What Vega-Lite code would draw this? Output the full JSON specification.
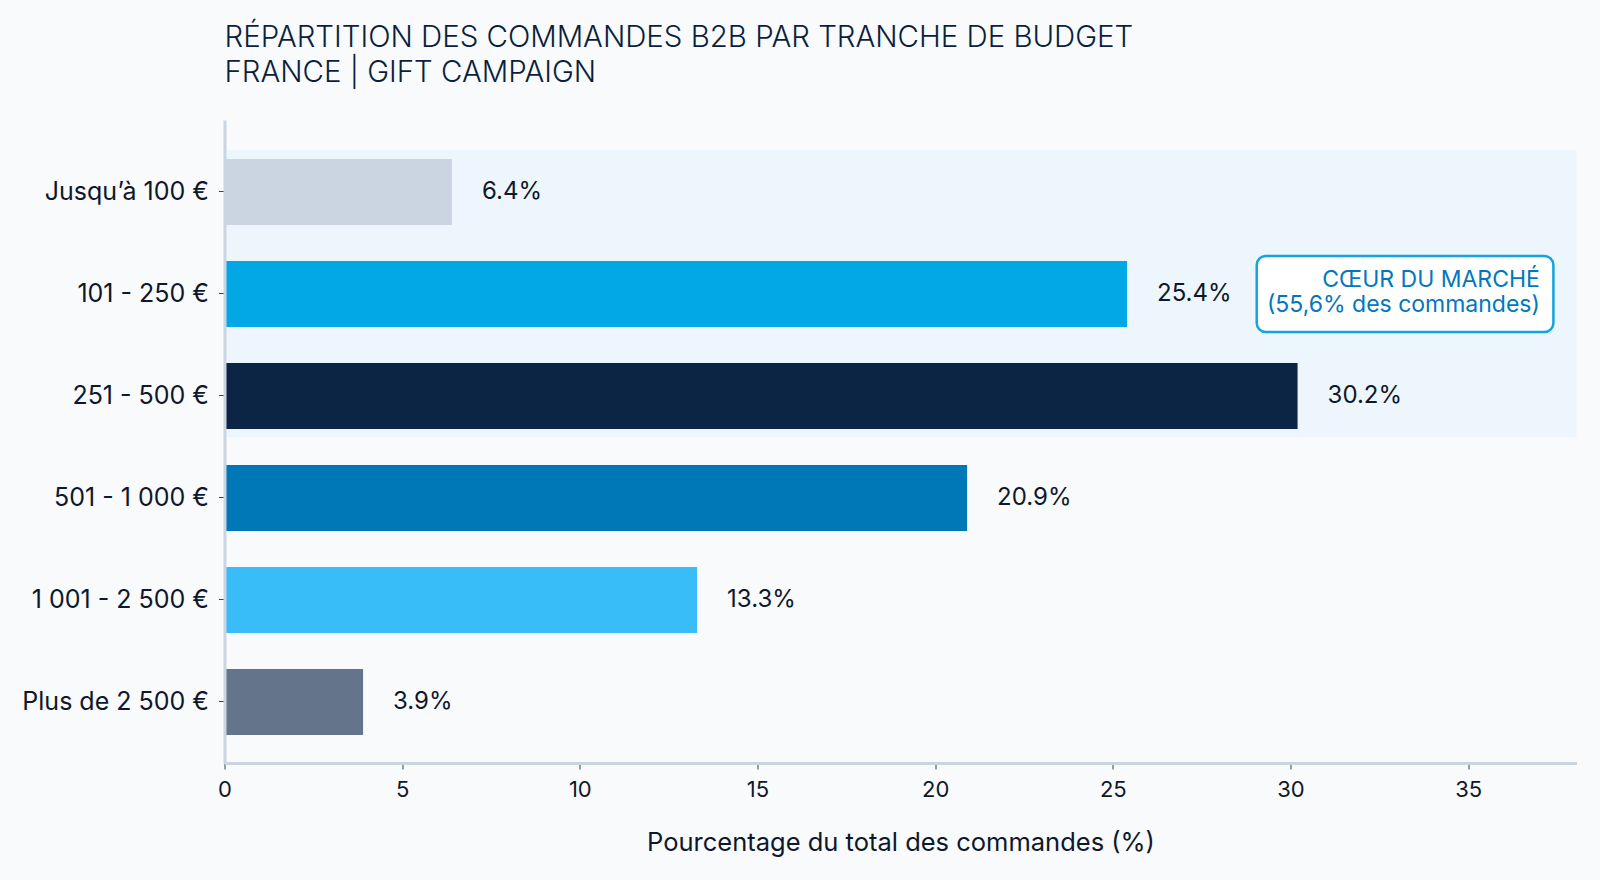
{
  "$schema": "https://vega.github.io/schema/vega-lite/v6.json",
  "width": 1352,
  "height": 643,
  "autosize": {"type": "none"},
  "padding": {"left": 224.5, "top": 120, "right": 23.5, "bottom": 117},
  "background": "#f8fafc",
  "config": {
    "font": "Inter",
    "view": {"stroke": null},
    "axis": {"labelFont": "Inter", "titleFont": "Inter"}
  },
  "title": {
    "text": ["RÉPARTITION DES COMMANDES B2B PAR TRANCHE DE BUDGET", "FRANCE | GIFT CAMPAIGN"],
    "anchor": "start",
    "frame": "group",
    "font": "Inter",
    "fontSize": 29.4,
    "fontWeight": 300,
    "color": "#0b1f3d",
    "lineHeight": 35,
    "offset": 32
  },
  "datasets": {
    "commandes": [
      {"tranche": "Jusqu’à 100 €", "pct": 6.4},
      {"tranche": "101 - 250 €", "pct": 25.4},
      {"tranche": "251 - 500 €", "pct": 30.2},
      {"tranche": "501 - 1 000 €", "pct": 20.9},
      {"tranche": "1 001 - 2 500 €", "pct": 13.3},
      {"tranche": "Plus de 2 500 €", "pct": 3.9}
    ],
    "zone": [
      {"debut": "Jusqu’à 100 €", "fin": "251 - 500 €"}
    ]
  },
  "layer": [
    {
      "data": {"name": "zone"},
      "mark": {"type": "rect", "color": "#eef6fd", "yOffset": -42, "y2Offset": 41},
      "encoding": {
        "x": {"datum": 0, "type": "quantitative"},
        "x2": {"datum": 38.05},
        "y": {"field": "debut", "type": "nominal"},
        "y2": {"field": "fin"}
      }
    },
    {
      "data": {"name": "commandes"},
      "mark": {"type": "bar"},
      "encoding": {
        "y": {
          "field": "tranche",
          "type": "nominal",
          "sort": null,
          "scale": {
            "domain": ["Jusqu’à 100 €", "101 - 250 €", "251 - 500 €", "501 - 1 000 €", "1 001 - 2 500 €", "Plus de 2 500 €"],
            "paddingInner": 0.353,
            "paddingOuter": 0.3285,
            "align": 0.582
          },
          "axis": {
            "title": null,
            "labelFontSize": 25,
            "labelColor": "#0f172a",
            "labelPadding": 10,
            "labelLimit": 400,
            "tickSize": 6,
            "tickColor": "#334155",
            "tickWidth": 1,
            "domainColor": "#cbd5e1",
            "domainWidth": 3
          }
        },
        "x": {
          "field": "pct",
          "type": "quantitative",
          "scale": {"domain": [0, 38.05], "nice": false, "zero": true},
          "axis": {
            "values": [0, 5, 10, 15, 20, 25, 30, 35],
            "grid": false,
            "title": "Pourcentage du total des commandes (%)",
            "titleFontSize": 25.5,
            "titleFontWeight": "normal",
            "titleColor": "#0f172a",
            "titlePadding": 30,
            "labelFontSize": 22,
            "labelColor": "#0f172a",
            "labelPadding": 10,
            "labelFlush": false,
            "tickSize": 6,
            "tickColor": "#334155",
            "tickWidth": 1,
            "domainColor": "#cbd5e1",
            "domainWidth": 3
          }
        },
        "color": {
          "field": "tranche",
          "type": "nominal",
          "scale": {
            "domain": ["Jusqu’à 100 €", "101 - 250 €", "251 - 500 €", "501 - 1 000 €", "1 001 - 2 500 €", "Plus de 2 500 €"],
            "range": ["#cbd5e1", "#02a8e6", "#0c2544", "#0077b6", "#38bdf8", "#64748b"]
          },
          "legend": null
        }
      }
    },
    {
      "data": {"name": "commandes"},
      "transform": [{"calculate": "format(datum.pct, '.1f') + '%'", "as": "etiquette"}],
      "mark": {"type": "text", "align": "left", "baseline": "middle", "dx": 30, "fontSize": 24, "color": "#0f172a"},
      "encoding": {
        "y": {"field": "tranche", "type": "nominal", "sort": null},
        "x": {"field": "pct", "type": "quantitative"},
        "text": {"field": "etiquette"}
      }
    },
    {
      "data": {"values": [{}]},
      "mark": {"type": "rect", "fill": "#ffffff", "stroke": "#12a4e0", "strokeWidth": 2.5, "cornerRadius": 9, "yOffset": -38, "y2Offset": 38},
      "encoding": {
        "x": {"datum": 29.05, "type": "quantitative"},
        "x2": {"datum": 37.4},
        "y": {"datum": "101 - 250 €", "type": "nominal"},
        "y2": {"datum": "101 - 250 €"}
      }
    },
    {
      "data": {"values": [{}]},
      "mark": {
        "type": "text",
        "text": ["CŒUR DU MARCHÉ", "(55,6% des commandes)"],
        "align": "right",
        "baseline": "middle",
        "lineHeight": 25,
        "dy": -14,
        "fontSize": 23,
        "color": "#0277bd"
      },
      "encoding": {
        "x": {"datum": 37.02, "type": "quantitative"},
        "y": {"datum": "101 - 250 €", "type": "nominal"}
      }
    }
  ]
}
